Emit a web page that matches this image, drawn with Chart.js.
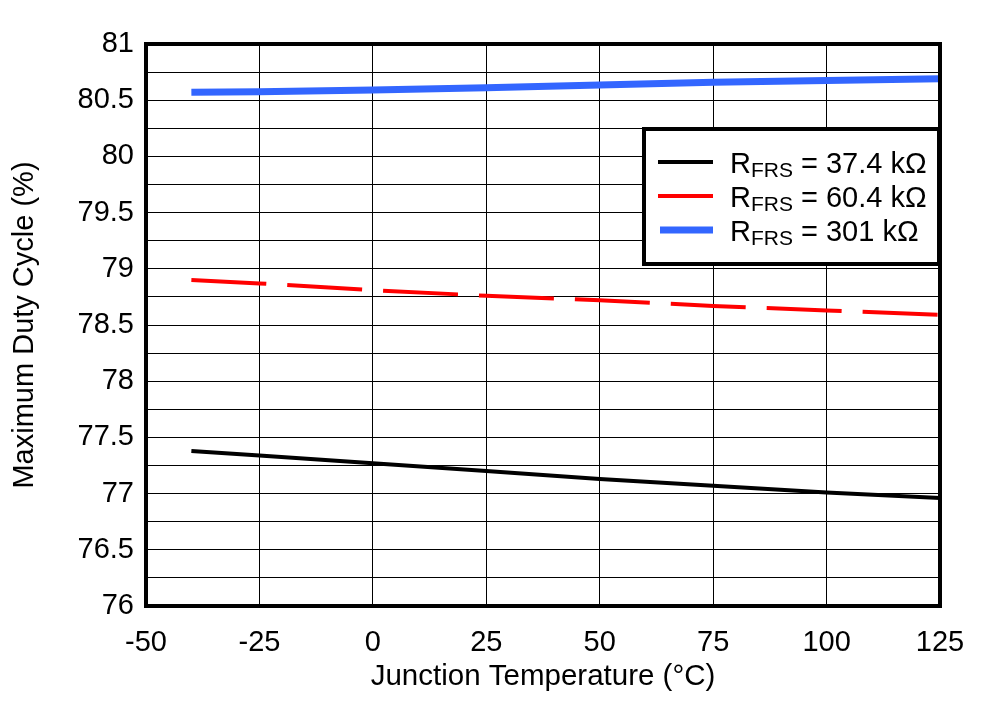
<!DOCTYPE html>
<html>
<head>
<meta charset="utf-8">
<script src="https://cdn.jsdelivr.net/npm/chart.js@4.4.1/dist/chart.umd.min.js"></script>
<style>
body{margin:0;background:#fff}
canvas{display:block}
</style>
</head>
<body>
<canvas id="chart" width="988" height="701"></canvas>
<script>
// junction temperature (°C) and max duty cycle (%) per R_FRS
const temps=[-40,-25,0,25,50,75,100,125];
const duty374=[77.38,77.34,77.27,77.20,77.13,77.07,77.01,76.96];
const duty604=[78.90,78.87,78.81,78.76,78.72,78.67,78.63,78.59];
const duty301=[80.57,80.575,80.59,80.61,80.635,80.66,80.675,80.69];
const rfrsValues=['37.4','60.4','301'];
const xMin=-50, xMax=125, xStep=25;
const yMin=76, yMax=81, yStep=0.25;

const FONT='"Liberation Sans", Arial, sans-serif';
const pts=arr=>arr.map((v,i)=>({x:temps[i],y:v}));

const styles=[
  {color:'#000000',width:4,dash:[]},
  {color:'#ff0000',width:4,dash:[75,21]},
  {color:'#3366ff',width:7,dash:[]}
];
const series=[duty374,duty604,duty301];

// plot frame + legend box with subscripted labels
const framePlugin={
  id:'frame',
  afterDraw(c){
    const ctx=c.ctx, a=c.chartArea;
    ctx.save();
    ctx.strokeStyle='#000';
    ctx.lineWidth=4;
    ctx.strokeRect(a.left,a.top,a.right-a.left,a.bottom-a.top);

    const bw=295, bh=135;
    const bx=a.right-bw-1, by=a.top+85;
    ctx.fillStyle='#fff';
    ctx.fillRect(bx,by,bw,bh);
    ctx.strokeRect(bx,by,bw,bh);

    c.data.datasets.forEach((ds,i)=>{
      const ry=by+33+i*34;
      ctx.beginPath();
      ctx.strokeStyle=ds.borderColor;
      ctx.lineWidth=ds.borderWidth;
      ctx.setLineDash([]);
      ctx.moveTo(bx+14+(i==2?2:0),ry);
      ctx.lineTo(bx+69,ry);
      ctx.stroke();

      ctx.fillStyle='#000';
      ctx.textBaseline='alphabetic';
      ctx.textAlign='left';
      let tx=bx+86;
      ctx.font='29px '+FONT;
      ctx.fillText('R',tx,ry+11);
      tx+=ctx.measureText('R').width;
      ctx.font='21px '+FONT;
      ctx.fillText('FRS',tx,ry+15);
      tx+=ctx.measureText('FRS').width;
      ctx.font='29px '+FONT;
      ctx.fillText(' = '+rfrsValues[i]+' k\u03A9',tx,ry+11);
    });
    ctx.restore();
  }
};

const ctx=document.getElementById('chart').getContext('2d');
const chart=new Chart(ctx,{
  type:'line',
  data:{
    datasets:series.map((s,i)=>({
      label:'RFRS = '+rfrsValues[i]+' k\u03A9',
      data:pts(s),
      borderColor:styles[i].color,
      backgroundColor:styles[i].color,
      borderWidth:styles[i].width,
      borderDash:styles[i].dash,
      pointRadius:0,
      tension:0,
      fill:false
    }))
  },
  options:{
    responsive:false,
    animation:false,
    layout:{padding:{top:44,right:48,left:0,bottom:0}},
    plugins:{legend:{display:false},tooltip:{enabled:false}},
    scales:{
      x:{
        type:'linear',
        min:xMin,max:xMax,
        ticks:{stepSize:xStep,color:'#000',font:{family:FONT,size:29},padding:20,
          maxRotation:0,autoSkip:false,callback:v=>String(v)},
        grid:{color:'#000',lineWidth:1,drawTicks:false},
        border:{display:false},
        title:{display:true,text:'Junction Temperature (\u00B0C)',color:'#000',
          font:{family:FONT,size:29.5},padding:{top:0,bottom:6}},
        afterFit(s){s.height=95;}
      },
      y:{
        min:yMin,max:yMax,
        ticks:{stepSize:yStep,color:'#000',font:{family:FONT,size:29},padding:12,
          autoSkip:false,
          callback:v=>{
            if(Math.abs(v*2-Math.round(v*2))>1e-6) return '';
            return Number.isInteger(v)?String(v):v.toFixed(1);
          }},
        grid:{color:'#000',lineWidth:1,drawTicks:false},
        border:{display:false},
        title:{display:true,text:'Maximum Duty Cycle (%)',color:'#000',
          font:{family:FONT,size:29},padding:{top:8,bottom:0}},
        afterFit(s){s.width=146;}
      }
    }
  },
  plugins:[framePlugin]
});
</script>
</body>
</html>
